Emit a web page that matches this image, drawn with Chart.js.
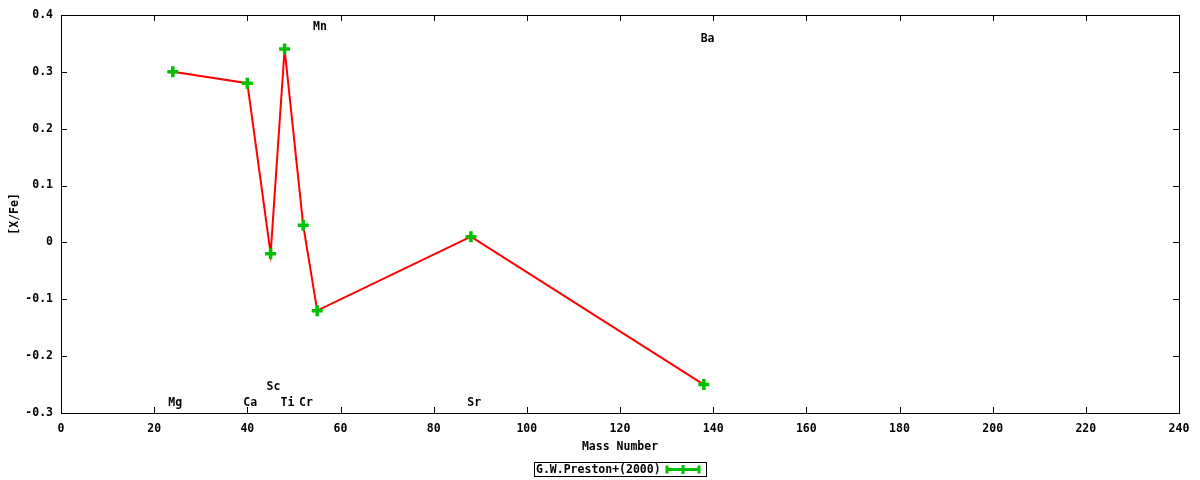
<!DOCTYPE html>
<html>
<head>
<meta charset="utf-8">
<script src="https://cdn.jsdelivr.net/npm/chart.js@4.4.1/dist/chart.umd.min.js"></script>
<style>
html,body{margin:0;padding:0;background:#fff;}
#wrap{width:1200px;height:480px;position:relative;}
</style>
</head>
<body>
<div id="wrap"><canvas id="c" width="1200" height="480"></canvas></div>
<script>
const massNumbers = [24, 40, 45, 48, 52, 55, 88, 138];
const xFe = [0.30, 0.28, -0.02, 0.34, 0.03, -0.12, 0.01, -0.25];
const elementLabels = ['Mg', 'Ca', 'Sc', 'Ti', 'Cr', 'Mn', 'Sr', 'Ba'];
const labelX = [24.5, 40.6, 45.6, 48.6, 52.6, 55.6, 88.7, 138.8];
const labelY = [-0.283, -0.283, -0.255, -0.283, -0.283, 0.379, -0.283, 0.358];
const seriesName = 'G.W.Preston+(2000)';
const xTicks = [0, 20, 40, 60, 80, 100, 120, 140, 160, 180, 200, 220, 240];
const yTicks = [-0.3, -0.2, -0.1, 0, 0.1, 0.2, 0.3, 0.4];

const FONT = 'bold 11.5px "DejaVu Sans Mono"';
const FONT_OBJ = {family: 'DejaVu Sans Mono', size: 11.5, weight: 'bold'};
const GREEN = '#00c000';
const RED = '#ff0000';

const points = massNumbers.map((m, i) => ({x: m, y: xFe[i]}));

const decor = {
  id: 'decor',
  afterDraw(chart) {
    const ctx = chart.ctx;
    const a = chart.chartArea;
    const xs = chart.scales.x, ys = chart.scales.y;
    ctx.save();
    ctx.strokeStyle = '#000';
    ctx.lineWidth = 1;
    ctx.strokeRect(Math.round(a.left) + 0.5, Math.round(a.top) + 0.5, Math.round(a.right - a.left), Math.round(a.bottom - a.top));
    const tl = 6;
    ctx.beginPath();
    xTicks.forEach(v => {
      const px = Math.round(xs.getPixelForValue(v)) + 0.5;
      ctx.moveTo(px, a.bottom); ctx.lineTo(px, a.bottom - tl);
      ctx.moveTo(px, a.top); ctx.lineTo(px, a.top + tl);
    });
    yTicks.forEach(v => {
      const py = Math.round(ys.getPixelForValue(v)) + 0.5;
      ctx.moveTo(a.left, py); ctx.lineTo(a.left + tl, py);
      ctx.moveTo(a.right, py); ctx.lineTo(a.right - tl, py);
    });
    ctx.stroke();
    ctx.fillStyle = '#000';
    ctx.font = FONT;
    ctx.textAlign = 'center';
    ctx.textBaseline = 'middle';
    elementLabels.forEach((t, i) => {
      ctx.fillText(t, xs.getPixelForValue(labelX[i]), ys.getPixelForValue(labelY[i]));
    });
    const bx = 534, by = 462, bw = 172, bh = 14;
    ctx.strokeStyle = '#000';
    ctx.lineWidth = 1;
    ctx.strokeRect(bx + 0.5, by + 0.5, bw, bh);
    ctx.textAlign = 'left';
    ctx.fillText(seriesName, bx + 2, by + bh / 2 + 1);
    const sy = by + bh / 2 + 0.5;
    ctx.strokeStyle = GREEN;
    ctx.lineWidth = 3;
    ctx.beginPath();
    ctx.moveTo(666, sy); ctx.lineTo(700, sy);
    ctx.moveTo(667, sy - 4); ctx.lineTo(667, sy + 4);
    ctx.moveTo(699, sy - 4); ctx.lineTo(699, sy + 4);
    ctx.moveTo(683, sy - 4.5); ctx.lineTo(683, sy + 4.5);
    ctx.stroke();
    ctx.restore();
  }
};

new Chart(document.getElementById('c'), {
  type: 'scatter',
  data: {
    datasets: [
      {
        label: 'line',
        data: points,
        showLine: true,
        borderColor: RED,
        borderWidth: 2,
        pointRadius: 0,
        fill: false,
        order: 2
      },
      {
        label: seriesName,
        data: points,
        showLine: false,
        pointStyle: 'cross',
        pointRadius: 5.5,
        pointBorderWidth: 3.5,
        borderColor: GREEN,
        backgroundColor: GREEN,
        order: 1
      }
    ]
  },
  options: {
    responsive: false,
    animation: false,
    devicePixelRatio: 1,
    layout: {padding: {left: 0, top: 14, right: 21, bottom: 0}},
    plugins: {legend: {display: false}, tooltip: {enabled: false}},
    scales: {
      x: {
        type: 'linear', min: 0, max: 240,
        afterBuildTicks: s => { s.ticks = xTicks.map(v => ({value: v})); },
        afterFit: s => { s.height = 67; },
        grid: {display: false, drawTicks: false, tickLength: 0},
        border: {display: false},
        ticks: {color: '#000', font: FONT_OBJ, padding: 9, maxRotation: 0},
        title: {display: true, text: 'Mass Number', color: '#000', font: FONT_OBJ, padding: {top: 0, bottom: 26}}
      },
      y: {
        type: 'linear', min: -0.3, max: 0.4,
        afterBuildTicks: s => { s.ticks = yTicks.map(v => ({value: v})); },
        afterFit: s => { s.width = 61; },
        grid: {display: false, drawTicks: false, tickLength: 0},
        border: {display: false},
        ticks: {color: '#000', font: FONT_OBJ, padding: 8,
          callback: v => (Math.abs(v) < 1e-9 ? '0' : v.toFixed(1))},
        title: {display: true, text: '[X/Fe]', color: '#000', font: FONT_OBJ, padding: {top: 8.5, bottom: 0}}
      }
    }
  },
  plugins: [decor]
});
</script>
</body>
</html>
